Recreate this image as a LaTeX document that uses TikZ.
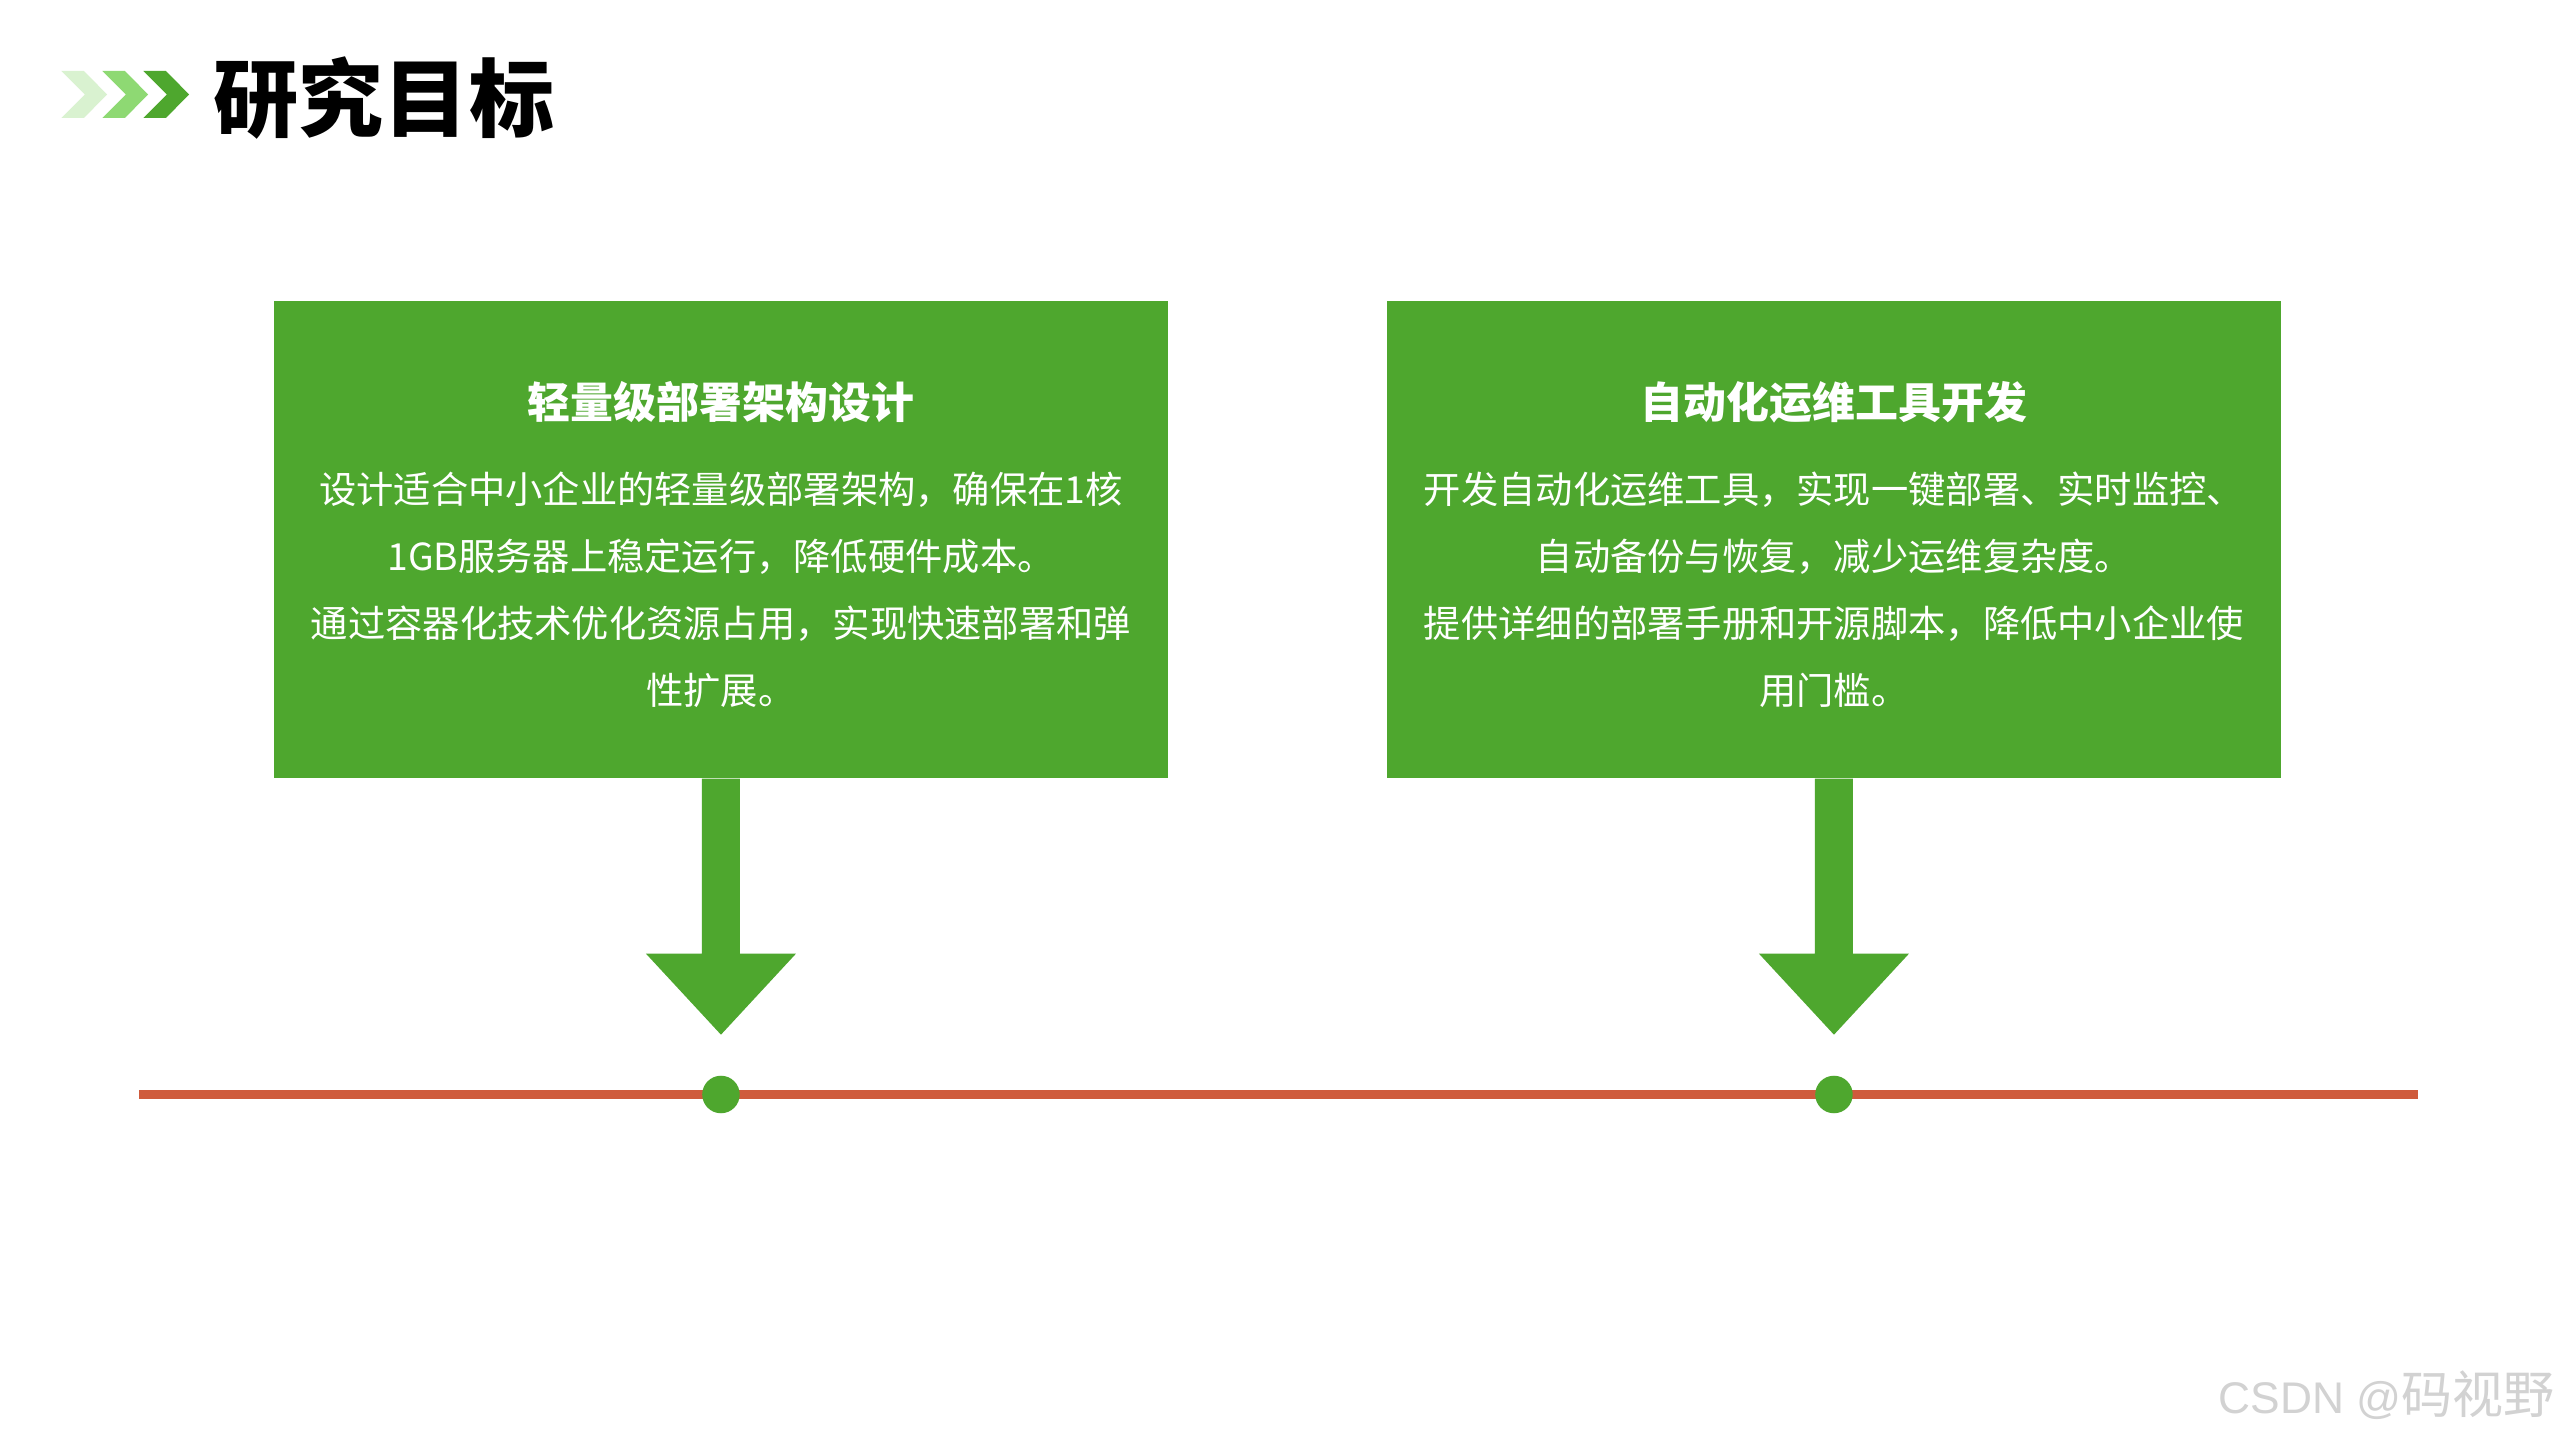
\documentclass[tikz,border=0pt]{standalone}
\usepackage{fontspec}
\setmainfont{Noto Sans CJK SC}
\newfontfamily\wmlatin{Liberation Sans}
\usetikzlibrary{calc}
\definecolor{mgreen}{HTML}{4EA72E}
\definecolor{lgreen}{HTML}{D9F2D0}
\definecolor{agreen}{HTML}{8ED973}
\definecolor{tlred}{HTML}{CF5B3C}
\definecolor{wmgray}{HTML}{D2D2D2}
\begin{document}
\begin{tikzpicture}[x=0.01cm,y=-0.01cm,
  gbox/.style={fill=mgreen, draw=none, minimum width=8.94cm, minimum height=4.77cm, inner sep=0, anchor=north west},
  boxtitle/.style={text=white, font=\bfseries\fontsize{12.2}{14}\selectfont, anchor=base, inner sep=0},
  boxline/.style={text=white, font=\fontsize{10.6}{13}\selectfont, anchor=base, inner sep=0},
  dot/.style={circle, fill=mgreen, minimum size=0.375cm, inner sep=0},
  bigarrow/.style={fill=mgreen, draw=none},
  timeline/.style={draw=tlred, line width=0.09cm}
]
\fill[white] (0,0) rectangle (2560,1440);
\useasboundingbox (0,0) rectangle (2560,1440);

% title chevrons
\foreach \cx/\cc in {61.4/lgreen, 102.4/agreen, 143.4/mgreen} {
  \fill[\cc] (\cx,71) -- ++(22.4,0) -- ++(23.4,23.5) -- ++(-23.4,23.5) -- ++(-22.4,0) -- ++(23.4,-23.5) -- cycle;
}
\node[anchor=base west, inner sep=0, font=\bfseries\fontsize{24.2}{29}\selectfont] (title) at (213,131) {研究目标};

% boxes
\node[gbox] (box1) at (273,300) {};
\node[gbox] (box2) at (1386,300) {};

\node[boxtitle] (t1) at ($(box1.north)+(0,119)$) {轻量级部署架构设计};
\node[boxline] (a1) at ($(box1.north)+(0,204)$) {设计适合中小企业的轻量级部署架构，确保在1核};
\node[boxline] (a2) at ($(box1.north)+(0,271)$) {1GB服务器上稳定运行，降低硬件成本。};
\node[boxline] (a3) at ($(box1.north)+(0,338)$) {通过容器化技术优化资源占用，实现快速部署和弹};
\node[boxline] (a4) at ($(box1.north)+(0,405)$) {性扩展。};

\node[boxtitle] (t2) at ($(box2.north)+(0,119)$) {自动化运维工具开发};
\node[boxline] (b1) at ($(box2.north)+(0,204)$) {开发自动化运维工具，实现一键部署、实时监控、};
\node[boxline] (b2) at ($(box2.north)+(0,271)$) {自动备份与恢复，减少运维复杂度。};
\node[boxline] (b3) at ($(box2.north)+(0,338)$) {提供详细的部署手册和开源脚本，降低中小企业使};
\node[boxline] (b4) at ($(box2.north)+(0,405)$) {用门槛。};

% arrows
\foreach \b in {box1, box2} {
  \fill[bigarrow] ($(\b.south)+(-19,0)$) -- ++(0,175) -- ++(-56,0) -- ++(75,81) -- ++(75,-81) -- ++(-56,0) -- ++(0,-175) -- cycle;
}

% timeline
\coordinate (tlL) at (139,1094.5);
\coordinate (tlR) at (2418,1094.5);
\draw[timeline] (tlL) -- (tlR);
\node[dot] (d1) at (box1.south |- tlL) {};
\node[dot] (d2) at (box2.south |- tlL) {};

% watermark
\node[anchor=base east, text=wmgray, inner sep=0, font=\fontsize{14.5}{17}\selectfont] (wm) at (2555,1413) {{\wmlatin\fontsize{12.6}{15}\selectfont CSDN @}码视野};
\end{tikzpicture}
\end{document}
